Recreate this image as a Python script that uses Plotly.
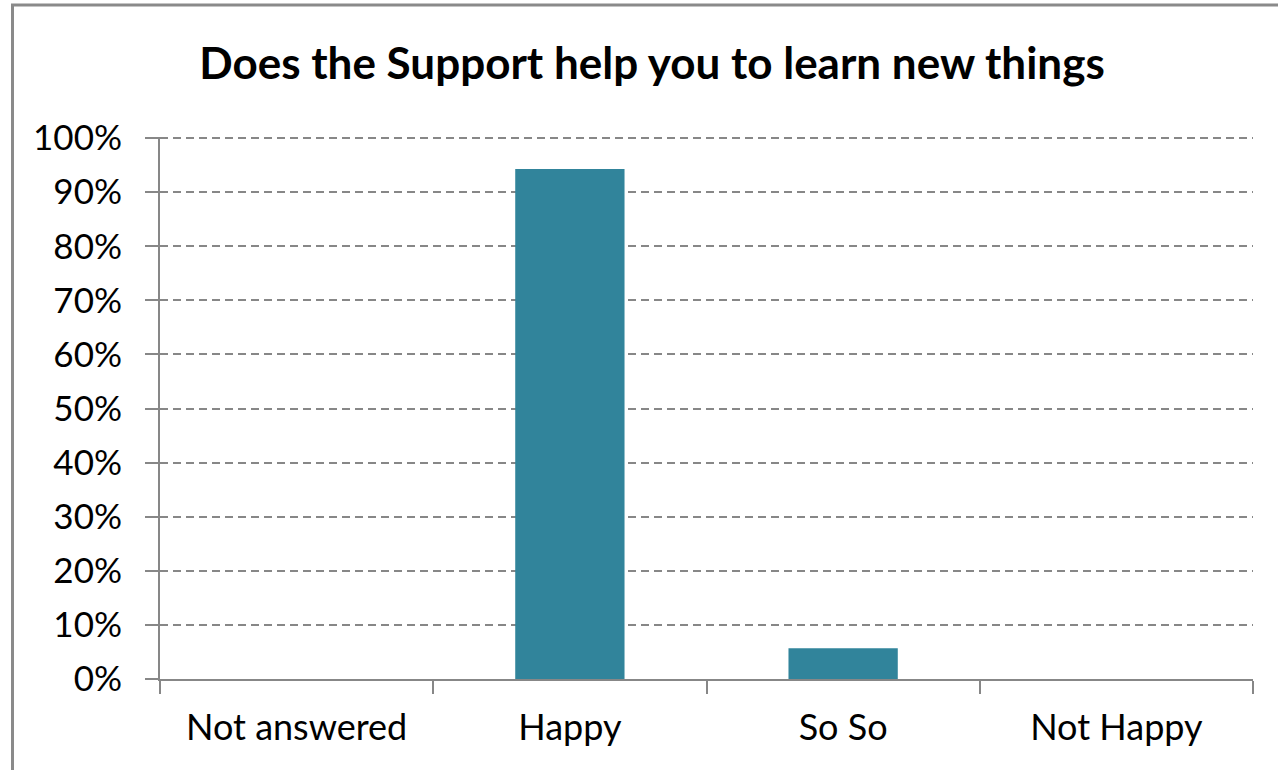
import plotly.graph_objects as go

categories = ["Not answered", "Happy", "So So", "Not Happy"]
values = [0.0, 0.943, 0.057, 0.0]
y_ticks = [0, 0.1, 0.2, 0.3, 0.4, 0.5, 0.6, 0.7, 0.8, 0.9, 1.0]
y_tick_labels = ["0%", "10%", "20%", "30%", "40%", "50%", "60%", "70%", "80%", "90%", "100%"]
title_text = "Does the Support help you to learn new things"

FONT = "Lato, 'Open Sans', sans-serif"
GRAY = "#878787"

fig = go.Figure(
    go.Bar(
        x=categories,
        y=values,
        marker=dict(color="#31849B", line=dict(width=0)),
        width=0.4,
        hoverinfo="x+y",
    )
)

# chart-area border (left and top edges visible in frame)
L, R, T, B = 160, 1253, 137, 679
W, H = R - L, B - T
def px_x(p):
    return (p - L) / W
def px_y(p):
    return (B - p) / H

fig.add_shape(type="line", xref="paper", yref="paper",
              x0=px_x(12.5), x1=px_x(12.5), y0=px_y(4), y1=px_y(800),
              line=dict(color="#8a8a8a", width=3), layer="above")
fig.add_shape(type="line", xref="paper", yref="paper",
              x0=px_x(11), x1=px_x(1300), y0=px_y(5), y1=px_y(5),
              line=dict(color="#8a8a8a", width=3), layer="above")

fig.update_layout(
    width=1278,
    height=770,
    margin=dict(l=L, r=1278 - R, t=T, b=770 - B, pad=0),
    paper_bgcolor="white",
    plot_bgcolor="white",
    showlegend=False,
    title=dict(
        text="<b>" + title_text + "</b>",
        x=(652) / 1278,
        xanchor="center",
        y=1 - 64 / 770,
        yanchor="middle",
        font=dict(family=FONT, size=44, color="black"),
    ),
    font=dict(family=FONT, size=35, color="black"),
)

fig.update_xaxes(
    type="category",
    showline=True,
    linecolor=GRAY,
    linewidth=2,
    ticks="outside",
    tickson="boundaries",
    ticklen=13,
    tickwidth=1.5,
    tickcolor=GRAY,
    showgrid=False,
    tickfont=dict(family=FONT, size=36, color="black"),
    ticklabelstandoff=16,
)

fig.update_yaxes(
    range=[0, 1.002],
    tickvals=y_ticks,
    ticktext=y_tick_labels,
    showline=True,
    linecolor=GRAY,
    linewidth=2,
    ticks="outside",
    ticklen=13,
    tickwidth=1.5,
    tickcolor=GRAY,
    showgrid=True,
    gridcolor=GRAY,
    gridwidth=2,
    griddash="8px,5px",
    zeroline=False,
    tickfont=dict(family=FONT, size=35, color="black"),
    ticklabelstandoff=16,
)

fig.write_html("out.html")
